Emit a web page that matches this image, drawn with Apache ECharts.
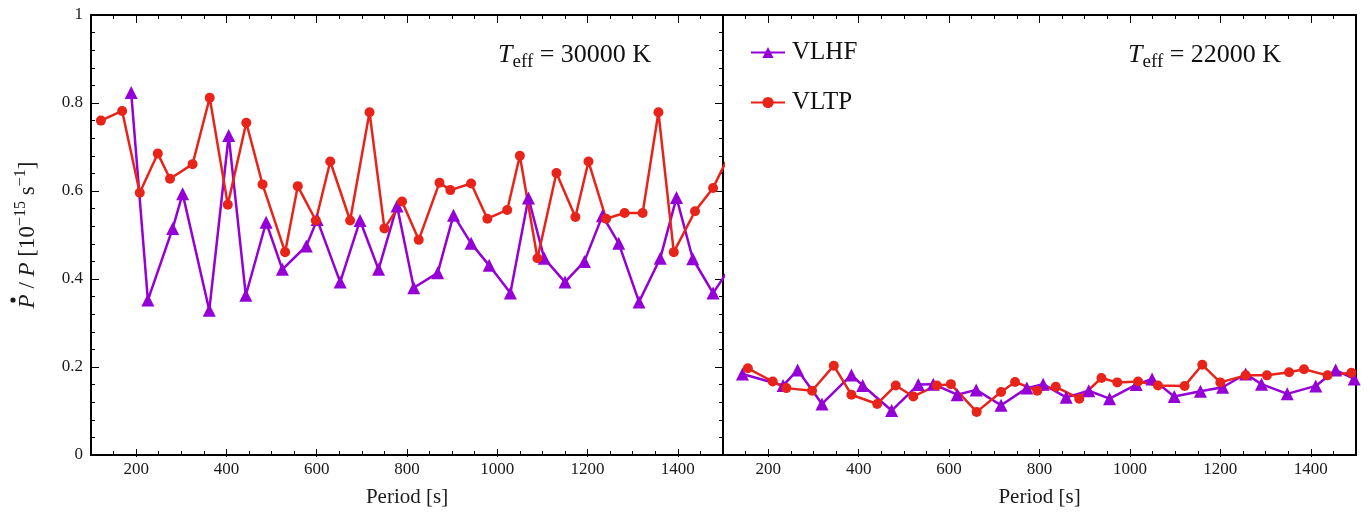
<!DOCTYPE html>
<html>
<head>
<meta charset="utf-8">
<script src="https://cdn.jsdelivr.net/npm/echarts@6/dist/echarts.min.js"></script>
<style>
  html, body { margin: 0; background: #fff; }
  #main { width: 1370px; height: 513px; }
</style>
</head>
<body>
<div id="main"></div>
<script>
// Teff = 30000 K (left panel)
const hotVlhfPeriod = [189, 226, 281, 303, 362, 405, 443, 488, 524, 577, 601, 652, 696, 737, 778, 815, 868, 903, 942, 982, 1029, 1069, 1104, 1150, 1193, 1233, 1269, 1314, 1361, 1397, 1433, 1478, 1525];
const hotVlhfRate = [0.824, 0.352, 0.515, 0.594, 0.329, 0.726, 0.363, 0.529, 0.422, 0.475, 0.535, 0.393, 0.533, 0.422, 0.566, 0.380, 0.414, 0.545, 0.481, 0.431, 0.368, 0.584, 0.447, 0.393, 0.440, 0.544, 0.481, 0.348, 0.447, 0.585, 0.446, 0.368, 0.44];
const hotVltpPeriod = [122, 169, 208, 248, 275, 325, 363, 403, 444, 480, 530, 558, 598, 630, 674, 717, 750, 789, 826, 872, 896, 942, 978, 1022, 1050, 1089, 1131, 1173, 1202, 1241, 1282, 1322, 1357, 1391, 1438, 1478, 1520];
const hotVltpRate = [0.760, 0.782, 0.596, 0.685, 0.628, 0.661, 0.812, 0.569, 0.755, 0.615, 0.461, 0.611, 0.533, 0.667, 0.533, 0.779, 0.515, 0.576, 0.489, 0.619, 0.602, 0.617, 0.537, 0.557, 0.680, 0.447, 0.641, 0.541, 0.667, 0.537, 0.550, 0.550, 0.779, 0.461, 0.554, 0.607, 0.695];

// Teff = 22000 K (right panel)
const coolVlhfPeriod = [143, 233, 265, 319, 384, 409, 473, 532, 565, 618, 660, 715, 772, 808, 859, 909, 955, 1014, 1049, 1098, 1156, 1205, 1256, 1291, 1348, 1411, 1455, 1496];
const coolVlhfRate = [0.184, 0.158, 0.193, 0.116, 0.182, 0.158, 0.101, 0.160, 0.161, 0.137, 0.148, 0.113, 0.152, 0.161, 0.131, 0.146, 0.128, 0.160, 0.173, 0.133, 0.145, 0.154, 0.184, 0.161, 0.139, 0.157, 0.193, 0.173];
const coolVltpPeriod = [155, 210, 240, 297, 345, 384, 441, 482, 521, 573, 604, 661, 715, 746, 795, 836, 888, 937, 972, 1018, 1062, 1121, 1160, 1200, 1256, 1303, 1352, 1385, 1437, 1490];
const coolVltpRate = [0.197, 0.167, 0.152, 0.146, 0.203, 0.137, 0.116, 0.158, 0.133, 0.158, 0.161, 0.098, 0.143, 0.166, 0.146, 0.155, 0.128, 0.175, 0.165, 0.167, 0.158, 0.157, 0.205, 0.165, 0.181, 0.181, 0.188, 0.195, 0.181, 0.187];

// tick labels
const periodLabels = [200, 400, 600, 800, 1000, 1200, 1400];
const periodMinor = [150, 250, 300, 350, 450, 500, 550, 650, 700, 750, 850, 900, 950, 1050, 1100, 1150, 1250, 1300, 1350, 1450];

const purple = '#9400d6';
const red = '#e8231a';
const serif = 'Liberation Serif';

function zip(xs, ys) {
  return xs.map((x, i) => [x, ys[i]]);
}

const chart = echarts.init(document.getElementById('main'));

const grids = [
  { left: 91, top: 15, width: 632, height: 442 },
  { left: 723, top: 15, width: 633, height: 442 }
];

// x axes: data axes carry the short ticks, overlay axes carry the long ones
function periodAxis(gridIndex, position, withLabels) {
  return {
    type: 'value', gridIndex: gridIndex, position: position,
    min: 100, max: 1500,
    axisLine: { show: true, onZero: false, lineStyle: { color: '#000', width: 2 } },
    axisTick: { show: true, inside: true, length: 4, customValues: periodMinor, lineStyle: { color: '#000', width: 1 } },
    axisLabel: withLabels ? {
      show: true, customValues: periodLabels, margin: 6,
      fontFamily: serif, fontSize: 17, color: '#1a1a1a',
      formatter: v => String(v)
    } : { show: false },
    splitLine: { show: false },
    name: withLabels ? 'Period [s]' : '',
    nameLocation: 'middle', nameGap: 32,
    nameTextStyle: { fontFamily: serif, fontSize: 21, color: '#1a1a1a' }
  };
}
function majorAxis(gridIndex, position) {
  return {
    type: 'value', gridIndex: gridIndex, position: position,
    min: 100, max: 1500,
    axisLine: { show: false, onZero: false },
    axisTick: { show: true, inside: true, length: 8, customValues: periodLabels, lineStyle: { color: '#000', width: 1 } },
    axisLabel: { show: false },
    splitLine: { show: false }
  };
}

const xAxes = [
  periodAxis(0, 'bottom', true), periodAxis(0, 'top', false),
  periodAxis(1, 'bottom', true), periodAxis(1, 'top', false),
  majorAxis(2, 'bottom'), majorAxis(2, 'top'),
  majorAxis(3, 'bottom'), majorAxis(3, 'top')
];

function rateAxis(gridIndex, position, ticks, withLabels) {
  return {
    type: 'value', gridIndex: gridIndex, position: position,
    min: 0, max: 1, interval: 0.2,
    axisLine: { show: true, onZero: false, lineStyle: { color: '#000', width: 2 } },
    axisTick: { show: ticks, inside: true, length: 8, lineStyle: { color: '#000', width: 1 } },
    minorTick: { show: ticks, splitNumber: 5, length: 4, lineStyle: { color: '#000', width: 1 } },
    axisLabel: withLabels ? { show: true, margin: 8, fontFamily: serif, fontSize: 17, color: '#1a1a1a' } : { show: false },
    splitLine: { show: false },
    minorSplitLine: { show: false },
    name: withLabels ? '{ip|P}{n| / }{ip|P}{n| [10}{sup|\u221215}{n| s}{sup|\u22121}{n|]}' : '',
    nameLocation: 'middle', nameGap: 48,
    nameTextStyle: {
      fontFamily: serif, fontSize: 23, color: '#1a1a1a',
      rich: {
        ip: { fontFamily: serif, fontStyle: 'italic', fontSize: 23, lineHeight: 30, verticalAlign: 'middle', color: '#1a1a1a' },
        n: { fontFamily: serif, fontSize: 23, lineHeight: 30, verticalAlign: 'middle', color: '#1a1a1a' },
        sup: { fontFamily: serif, fontSize: 16, lineHeight: 16, verticalAlign: 'top', color: '#1a1a1a' }
      }
    }
  };
}
function hiddenRate(gridIndex) {
  return { type: 'value', gridIndex: gridIndex, min: 0, max: 1, show: false };
}

const yAxes = [
  rateAxis(0, 'left', true, true), rateAxis(0, 'right', true, false),
  rateAxis(1, 'left', false, false), rateAxis(1, 'right', false, false),
  hiddenRate(2), hiddenRate(3)
];

function lineSeries(name, data, color, symbol, size, xi, yi) {
  return {
    type: 'line', name: name, data: data,
    xAxisIndex: xi, yAxisIndex: yi,
    symbol: symbol, symbolSize: size, showAllSymbol: true,
    lineStyle: { color: color, width: 2.5 },
    itemStyle: { color: color },
    clip: true, animation: false
  };
}

function teffLabel(x, value) {
  return {
    type: 'text', left: x, top: 42,
    style: {
      text: '{i|T}{sub|eff}{n| = ' + value + ' K}',
      rich: {
        i: { fontFamily: serif, fontStyle: 'italic', fontSize: 26, lineHeight: 34, verticalAlign: 'middle', fill: '#111' },
        sub: { fontFamily: serif, fontSize: 19, lineHeight: 19, verticalAlign: 'bottom', fill: '#111' },
        n: { fontFamily: serif, fontSize: 26, lineHeight: 34, verticalAlign: 'middle', fill: '#111' }
      }
    }
  };
}

chart.setOption({
  backgroundColor: '#fff',
  animation: false,
  grid: grids.concat(grids),
  xAxis: xAxes,
  yAxis: yAxes,
  legend: {
    orient: 'vertical', left: 745, top: 35,
    itemWidth: 34, itemHeight: 14, itemGap: 25,
    selectedMode: false,
    data: ['VLHF', 'VLTP'],
    textStyle: { fontFamily: serif, fontSize: 25, color: '#111', padding: [0, 0, 0, 2] }
  },
  graphic: [
    teffLabel(498, '30000'),
    teffLabel(1128, '22000'),
    // dot of the time derivative over the first P in the rotated y-axis title
    { type: 'circle', shape: { cx: 13, cy: 300, r: 2.6 }, style: { fill: '#1a1a1a' }, z: 10 }
  ],
  series: [
    lineSeries('VLHF', zip(hotVlhfPeriod, hotVlhfRate), purple, 'triangle', 13, 0, 0),
    lineSeries('VLTP', zip(hotVltpPeriod, hotVltpRate), red, 'circle', 10, 0, 0),
    lineSeries('VLHF', zip(coolVlhfPeriod, coolVlhfRate), purple, 'triangle', 13, 2, 2),
    lineSeries('VLTP', zip(coolVltpPeriod, coolVltpRate), red, 'circle', 10, 2, 2)
  ]
});
</script>
</body>
</html>
